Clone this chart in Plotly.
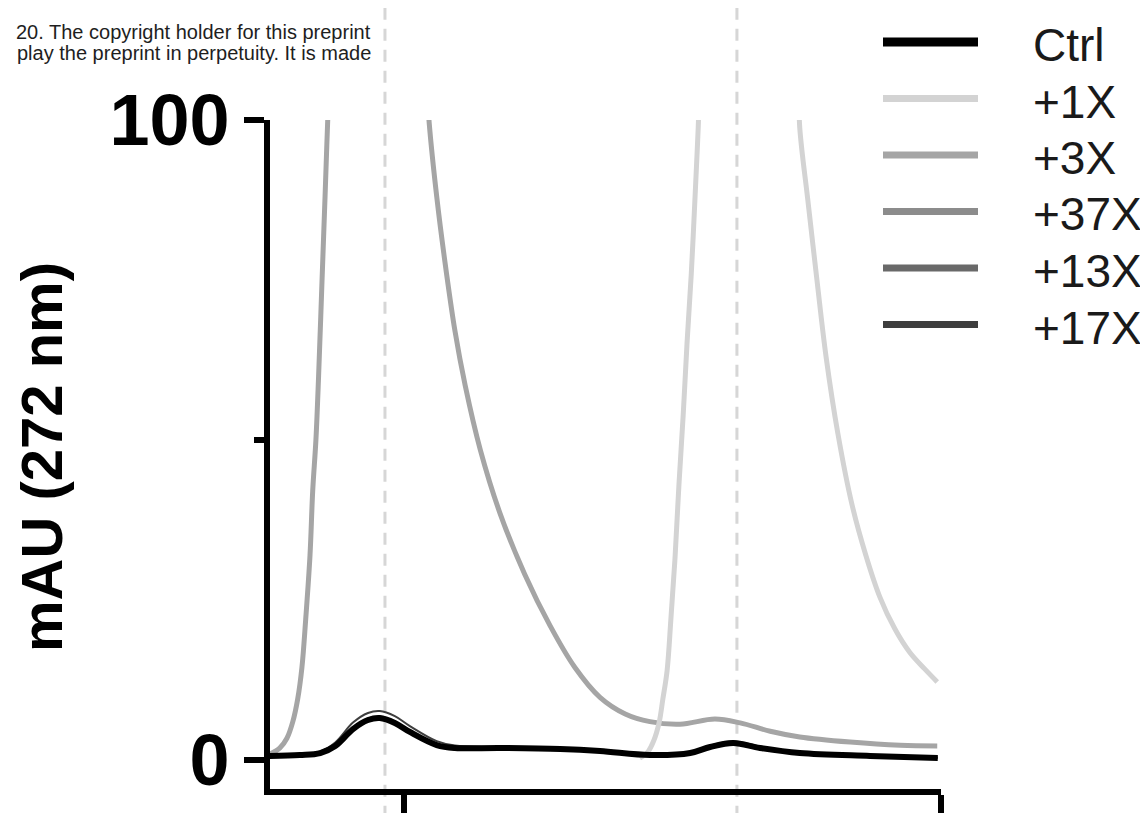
import plotly.graph_objects as go

# ---------------- data (retention time in min, absorbance in mAU) ----------------
series_names = ["Ctrl", "+1X", "+3X", "+37X", "+13X", "+17X"]

ctrl_x = [7.47, 8.06, 8.44, 8.72, 9.05, 9.33, 9.55, 9.83, 10.11, 10.61, 10.95, 11.79,
          12.91, 13.65, 14.58, 15.33, 15.70, 16.13, 16.63, 17.37, 18.68, 19.94]
ctrl_y = [0.63, 0.78, 1.09, 2.19, 4.84, 6.25, 6.56, 5.78, 4.38, 2.34, 1.88, 1.88,
          1.72, 1.41, 0.78, 1.09, 2.03, 2.66, 1.88, 1.09, 0.63, 0.31]
x17_y = [0.75, 0.92, 1.35, 2.75, 5.85, 7.35, 7.65, 6.85, 5.30, 2.95, 2.25, 2.05,
         1.85, 1.50, 0.90, 1.25, 2.25, 2.95, 2.10, 1.20, 0.70, 0.40]
x13_y = [0.66, 0.82, 1.15, 2.30, 5.05, 6.50, 6.80, 6.00, 4.55, 2.45, 1.95, 1.92,
         1.76, 1.44, 0.82, 1.12, 2.08, 2.74, 1.94, 1.12, 0.65, 0.34]
x37_y = [0.64, 0.80, 1.12, 2.25, 4.95, 6.40, 6.70, 5.90, 4.48, 2.40, 1.92, 1.90,
         1.74, 1.43, 0.80, 1.10, 2.05, 2.70, 1.91, 1.10, 0.64, 0.33]

x3_x = [7.50, 7.69, 7.82, 7.93, 8.02, 8.10, 8.17, 8.25, 8.30, 8.36, 8.41, 8.47, 8.53,
        8.58, 8.64, 9.55, 10.39, 10.47, 10.61, 10.76, 10.95, 11.14, 11.42, 11.79,
        12.25, 12.72, 13.18, 13.65, 14.12, 14.58, 15.14, 15.79, 16.26, 16.82, 17.37,
        18.31, 19.24, 19.93]
x3_y = [0.9, 1.9, 3.4, 6.0, 9.5, 14.5, 22.0, 32.0, 42.0, 50.0, 60.0, 74.0, 88.0,
        100, 112, 140, 110, 99.5, 88.0, 78.0, 67.0, 58.5, 48.5, 38.5,
        29.0, 21.0, 14.5, 9.8, 7.2, 6.0, 5.6, 6.4, 5.8, 4.5, 3.6,
        2.8, 2.3, 2.2]

x1_x = [14.39, 14.54, 14.65, 14.75, 14.82, 14.90, 14.97, 15.05, 15.12, 15.20, 15.27,
        15.35, 15.42, 15.48, 15.53, 16.44, 17.32, 17.37, 17.52, 17.69, 17.86, 18.08,
        18.34, 18.60, 18.86, 19.14, 19.42, 19.70, 19.93]
x1_y = [0.3, 1.25, 3.0, 5.8, 9.5, 14.0, 22.0, 32.0, 43.0, 54.0, 65.0,
        76.0, 88.0, 99.0, 110, 150, 110, 98.75, 87.5, 75.0, 63.0, 51.0,
        40.0, 32.0, 25.5, 20.5, 16.8, 14.2, 12.2]

y_tick_vals = [0, 100]
y_tick_text = ["0", "100"]
x_tick_vals = [10, 20]
marker_times = [9.646, 16.20]
y_title = "mAU (272 nm)"
header_lines = ["20. The copyright holder for this preprint",
                "play the preprint in perpetuity. It is made"]

# ---------------- layout geometry (page pixels; page has an 8px body margin) ----------------
OFF = 8
W, H = 1148 - OFF, 813 - OFF
L, R, T, B = 262, 207, 112, 24
FONT = "Liberation Sans, Arial, sans-serif"
colors = {"Ctrl": "#000000", "+1X": "#d3d3d3", "+3X": "#a5a5a5",
          "+37X": "#8c8c8c", "+13X": "#696969", "+17X": "#3e3e3e"}


def px_x(px):
    return (px - OFF - L) / (W - L - R)


def px_y(py):
    return (H - B - (py - OFF)) / (H - T - B)


fig = go.Figure()
order = [("+3X", x3_x, x3_y, 5), ("+37X", ctrl_x, x37_y, 2), ("+13X", ctrl_x, x13_y, 2),
         ("+17X", ctrl_x, x17_y, 2), ("+1X", x1_x, x1_y, 5), ("Ctrl", ctrl_x, ctrl_y, 6)]
for name, xs, ys, w in order:
    fig.add_trace(go.Scatter(x=xs, y=ys, mode="lines", name=name, showlegend=False,
                             line=dict(color=colors[name], width=w, shape="spline",
                                       smoothing=1.0)))

for t in marker_times:
    fig.add_shape(type="line", xref="x", yref="paper", x0=t, x1=t, y0=-0.2, y1=1.3,
                  line=dict(color="#d6d6d6", width=3, dash="12px,9px"), layer="below")

# manual legend
for i, name in enumerate(series_names):
    cy = 42 + 56.5 * i
    fig.add_shape(type="line", xref="paper", yref="paper", x0=px_x(883), x1=px_x(978),
                  y0=px_y(cy), y1=px_y(cy),
                  line=dict(color=colors[name], width=9 if name == "Ctrl" else 7))
    fig.add_annotation(text=name, xref="paper", yref="paper", x=px_x(1031), y=px_y(cy + 3),
                       xanchor="left", yanchor="middle", showarrow=False,
                       font=dict(family=FONT, size=46, color="#1a1a1a"))

for i, line in enumerate(header_lines):
    fig.add_annotation(text=line, xref="paper", yref="paper", x=px_x(373), y=px_y(32 + 21 * i),
                       xanchor="right", yanchor="middle", showarrow=False,
                       font=dict(family=FONT, size=20, color="#1e1e1e"))

fig.add_annotation(text=y_title, xref="paper", yref="paper", x=px_x(41), y=px_y(457),
                   xanchor="center", yanchor="middle", textangle=-90, showarrow=False,
                   font=dict(family=FONT, size=58, color="#000000", weight="bold"))

fig.update_layout(
    width=W, height=H, margin=dict(l=L, r=R, t=T, b=B, autoexpand=False),
    paper_bgcolor="white", plot_bgcolor="white", template="none", showlegend=False,
    xaxis=dict(range=[7.505, 20.0], tickvals=x_tick_vals, showticklabels=False,
               ticks="outside", ticklen=30, tickwidth=6, tickcolor="black",
               showline=True, linewidth=6, linecolor="black", showgrid=False,
               zeroline=False, automargin=False),
    yaxis=dict(range=[-4.53, 100], tickvals=y_tick_vals, ticktext=y_tick_text,
               ticks="outside", ticklen=20, tickwidth=6, tickcolor="black",
               tickfont=dict(family=FONT, size=72, color="black", weight="bold"),
               minor=dict(tickvals=[50], ticks="outside", ticklen=10, tickwidth=6,
                          tickcolor="black", showgrid=False),
               showline=True, linewidth=6, linecolor="black", showgrid=False,
               zeroline=False, automargin=False),
)

fig.write_html("out.html")
